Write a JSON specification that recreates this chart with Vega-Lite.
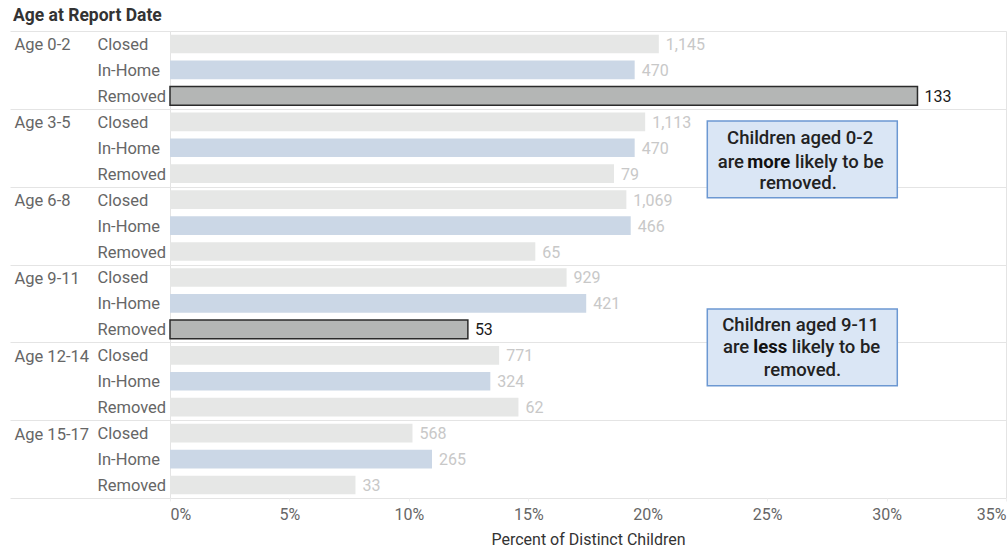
{
  "$schema": "https://vega.github.io/schema/vega-lite/v6.json",
  "width": 836,
  "height": 467,
  "autosize": {"type": "none"},
  "padding": {"left": 170, "top": 31, "right": 2, "bottom": 50},
  "background": "white",
  "config": {
    "font": "Roboto",
    "view": {"stroke": "#e4e4e4", "strokeWidth": 1},
    "axis": {"labelFont": "Roboto", "titleFont": "Roboto"}
  },
  "title": {
    "text": "Age at Report Date",
    "anchor": "start",
    "frame": "group",
    "dx": -157,
    "offset": -1,
    "fontSize": 17.5,
    "fontWeight": "bold",
    "color": "#333333",
    "font": "Roboto"
  },
  "datasets": {
    "children": [
      {"age": "Age 0-2", "status": "Closed", "row": "Age 0-2|Closed", "count": 1145, "pct": 0.20465},
      {"age": "Age 0-2", "status": "In-Home", "row": "Age 0-2|In-Home", "count": 470, "pct": 0.19454},
      {"age": "Age 0-2", "status": "Removed", "row": "Age 0-2|Removed", "count": 133, "pct": 0.31294},
      {"age": "Age 3-5", "status": "Closed", "row": "Age 3-5|Closed", "count": 1113, "pct": 0.19893},
      {"age": "Age 3-5", "status": "In-Home", "row": "Age 3-5|In-Home", "count": 470, "pct": 0.19454},
      {"age": "Age 3-5", "status": "Removed", "row": "Age 3-5|Removed", "count": 79, "pct": 0.18588},
      {"age": "Age 6-8", "status": "Closed", "row": "Age 6-8|Closed", "count": 1069, "pct": 0.19106},
      {"age": "Age 6-8", "status": "In-Home", "row": "Age 6-8|In-Home", "count": 466, "pct": 0.19288},
      {"age": "Age 6-8", "status": "Removed", "row": "Age 6-8|Removed", "count": 65, "pct": 0.15294},
      {"age": "Age 9-11", "status": "Closed", "row": "Age 9-11|Closed", "count": 929, "pct": 0.16604},
      {"age": "Age 9-11", "status": "In-Home", "row": "Age 9-11|In-Home", "count": 421, "pct": 0.17425},
      {"age": "Age 9-11", "status": "Removed", "row": "Age 9-11|Removed", "count": 53, "pct": 0.12471},
      {"age": "Age 12-14", "status": "Closed", "row": "Age 12-14|Closed", "count": 771, "pct": 0.13780},
      {"age": "Age 12-14", "status": "In-Home", "row": "Age 12-14|In-Home", "count": 324, "pct": 0.13411},
      {"age": "Age 12-14", "status": "Removed", "row": "Age 12-14|Removed", "count": 62, "pct": 0.14588},
      {"age": "Age 15-17", "status": "Closed", "row": "Age 15-17|Closed", "count": 568, "pct": 0.10152},
      {"age": "Age 15-17", "status": "In-Home", "row": "Age 15-17|In-Home", "count": 265, "pct": 0.10969},
      {"age": "Age 15-17", "status": "Removed", "row": "Age 15-17|Removed", "count": 33, "pct": 0.07765}
    ],
    "boxes": [
      {"x1": 0.22494, "x2": 0.30449, "y1": 3.47, "y2": 6.43},
      {"x1": 0.22494, "x2": 0.30449, "y1": 10.72, "y2": 13.67}
    ],
    "centered": [
      {"x": 0.2638, "y": 4.14, "text": "Children aged 0-2"},
      {"x": 0.2630, "y": 5.87, "text": "removed."},
      {"x": 0.2640, "y": 11.33, "text": "Children aged 9-11"},
      {"x": 0.2648, "y": 13.07, "text": "removed."}
    ],
    "lead": [
      {"x": 0.2403, "y": 5.04, "text": "are"},
      {"x": 0.2425, "y": 12.17, "text": "are"}
    ],
    "emphasis": [
      {"x": 0.2507, "y": 5.04, "text": "more"},
      {"x": 0.2513, "y": 12.17, "text": "less"}
    ],
    "tail": [
      {"x": 0.2617, "y": 5.04, "text": "likely to be"},
      {"x": 0.2603, "y": 12.17, "text": "likely to be"}
    ]
  },
  "layer": [
    {
      "data": {"name": "children"},
      "mark": {"type": "point", "opacity": 0},
      "encoding": {
        "x": {"field": "pct", "type": "quantitative"},
        "y": {
          "field": "age",
          "type": "nominal",
          "sort": null,
          "scale": {
            "domain": ["Age 0-2", "Age 3-5", "Age 6-8", "Age 9-11", "Age 12-14", "Age 15-17"],
            "paddingInner": 0,
            "paddingOuter": 0
          },
          "axis": {
            "orient": "left",
            "title": null,
            "domain": false,
            "tickBand": "extent",
            "ticks": true,
            "tickSize": 160,
            "tickColor": "#e4e4e4",
            "tickWidth": 1,
            "grid": true,
            "gridColor": "#e4e4e4",
            "gridWidth": 1,
            "labelAlign": "left",
            "labelBaseline": "middle",
            "labelPadding": -4,
            "labelOffset": -25,
            "labelFontSize": 16.5,
            "labelColor": "#666666"
          }
        }
      }
    },
    {
      "data": {"name": "children"},
      "encoding": {
        "y": {
          "field": "row",
          "type": "nominal",
          "sort": null,
          "scale": {
            "domain": [
              "Age 0-2|Closed", "Age 0-2|In-Home", "Age 0-2|Removed",
              "Age 3-5|Closed", "Age 3-5|In-Home", "Age 3-5|Removed",
              "Age 6-8|Closed", "Age 6-8|In-Home", "Age 6-8|Removed",
              "Age 9-11|Closed", "Age 9-11|In-Home", "Age 9-11|Removed",
              "Age 12-14|Closed", "Age 12-14|In-Home", "Age 12-14|Removed",
              "Age 15-17|Closed", "Age 15-17|In-Home", "Age 15-17|Removed"
            ],
            "paddingInner": 0.28,
            "paddingOuter": 0.14
          },
          "axis": {
            "orient": "left",
            "title": null,
            "domain": false,
            "ticks": false,
            "grid": false,
            "labelExpr": "split(datum.label, '|')[1]",
            "labelAlign": "left",
            "labelBaseline": "middle",
            "labelPadding": 73,
            "labelOffset": 1,
            "labelFontSize": 16.5,
            "labelColor": "#666666"
          }
        },
        "x": {
          "field": "pct",
          "type": "quantitative",
          "scale": {"domain": [0, 0.35], "nice": false},
          "axis": {
            "title": "Percent of Distinct Children",
            "format": ".0%",
            "values": [0, 0.05, 0.1, 0.15, 0.2, 0.25, 0.3, 0.35],
            "grid": false,
            "domain": false,
            "ticks": true,
            "tickSize": 3,
            "tickColor": "#eeeeee",
            "labelFlush": true,
            "labelFontSize": 16,
            "labelColor": "#666666",
            "labelPadding": 5,
            "titleFontSize": 16,
            "titleFontWeight": "normal",
            "titleColor": "#333333",
            "titlePadding": 9
          }
        }
      },
      "layer": [
        {
          "mark": {"type": "bar", "strokeWidth": 1.5},
          "encoding": {
            "color": {
              "condition": {
                "test": "datum.row === 'Age 0-2|Removed' || datum.row === 'Age 9-11|Removed'",
                "value": "#b4b6b5"
              },
              "field": "status",
              "type": "nominal",
              "scale": {
                "domain": ["Closed", "In-Home", "Removed"],
                "range": ["#e6e7e6", "#cbd7e6", "#e6e7e6"]
              },
              "legend": null
            },
            "stroke": {
              "condition": {
                "test": "datum.row === 'Age 0-2|Removed' || datum.row === 'Age 9-11|Removed'",
                "value": "#2b2b2b"
              },
              "value": null
            }
          }
        },
        {
          "mark": {"type": "text", "align": "left", "baseline": "middle", "dx": 7, "dy": 1, "fontSize": 16},
          "encoding": {
            "text": {"field": "count", "type": "quantitative", "format": ","},
            "color": {
              "condition": {
                "test": "datum.row === 'Age 0-2|Removed' || datum.row === 'Age 9-11|Removed'",
                "value": "#1a1a1a"
              },
              "value": "#c8c8c8"
            }
          }
        }
      ]
    },
    {
      "encoding": {
        "y": {
          "field": "y",
          "type": "quantitative",
          "scale": {"domain": [0, 18], "reverse": true, "nice": false, "zero": false},
          "axis": null
        },
        "x": {"field": "x", "type": "quantitative"}
      },
      "layer": [
        {
          "data": {"name": "boxes"},
          "mark": {"type": "rect", "fill": "#dae6f5", "stroke": "#6c98d2", "strokeWidth": 1.5},
          "encoding": {
            "x": {"field": "x1", "type": "quantitative"},
            "x2": {"field": "x2"},
            "y": {"field": "y1", "type": "quantitative"},
            "y2": {"field": "y2"}
          }
        },
        {
          "data": {"name": "centered"},
          "mark": {"type": "text", "align": "center", "baseline": "middle", "fontSize": 18.5, "fontWeight": 500, "color": "#222222"},
          "encoding": {"text": {"field": "text"}}
        },
        {
          "data": {"name": "lead"},
          "mark": {"type": "text", "align": "right", "baseline": "middle", "fontSize": 18.5, "fontWeight": 500, "color": "#222222"},
          "encoding": {"text": {"field": "text"}}
        },
        {
          "data": {"name": "emphasis"},
          "mark": {"type": "text", "align": "center", "baseline": "middle", "fontSize": 18.5, "fontWeight": "bold", "color": "#111111"},
          "encoding": {"text": {"field": "text"}}
        },
        {
          "data": {"name": "tail"},
          "mark": {"type": "text", "align": "left", "baseline": "middle", "fontSize": 18.5, "fontWeight": 500, "color": "#222222"},
          "encoding": {"text": {"field": "text"}}
        }
      ]
    }
  ],
  "resolve": {"scale": {"y": "independent"}}
}
